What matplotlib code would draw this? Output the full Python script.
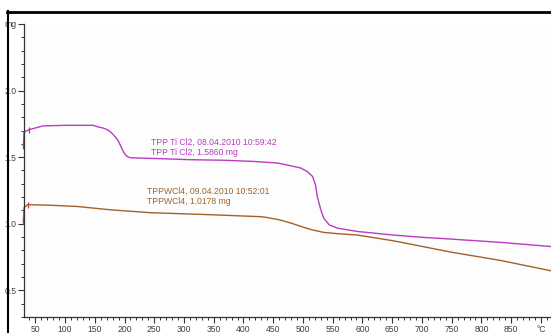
import matplotlib
matplotlib.use("Agg")
import matplotlib.pyplot as plt
from matplotlib.lines import Line2D
from matplotlib.ticker import MultipleLocator, FixedLocator

# TG curves, temperature in degC, mass in mg
tpp_ti_temp = [30, 31, 40, 63, 100, 148, 154, 163, 171, 176, 181, 186, 190, 194, 198, 202,
               205, 210, 220, 260, 311, 366, 417, 457, 479, 496, 507, 516, 521, 524, 530,
               535, 544, 558, 592, 648, 695, 749, 833, 917]
tpp_ti_mass = [1.586, 1.69, 1.707, 1.735, 1.739, 1.739, 1.729, 1.72, 1.707, 1.692, 1.669,
               1.645, 1.617, 1.58, 1.542, 1.515, 1.504, 1.496, 1.494, 1.489, 1.481, 1.477,
               1.468, 1.456, 1.436, 1.419, 1.393, 1.356, 1.293, 1.205, 1.105, 1.042, 0.992,
               0.967, 0.942, 0.917, 0.90, 0.885, 0.86, 0.829]

tppw_temp = [30, 31, 37, 70, 120, 176, 244, 345, 429, 440, 460, 480, 500, 515, 535, 560,
             592, 648, 664, 749, 833, 917]
tppw_mass = [1.018, 1.12, 1.143, 1.14, 1.13, 1.105, 1.083, 1.068, 1.053, 1.047, 1.03,
             1.005, 0.975, 0.955, 0.935, 0.925, 0.915, 0.875, 0.862, 0.787, 0.724, 0.647]

x_ticks = [50, 100, 150, 200, 250, 300, 350, 400, 450, 500, 550, 600, 650, 700, 750, 800, 850, 900]
x_labels = ['50', '100', '150', '200', '250', '300', '350', '400', '450', '500', '550',
            '600', '650', '700', '750', '800', '850', '°C']
y_ticks = [0.5, 1.0, 1.5, 2.0, 2.5]
y_labels = ['0.5', '1.0', '1.5', '2.0', 'mg']

purple = '#b93cc4'
brown = '#a0622c'
plt.rcParams['font.family'] = ['Liberation Sans', 'DejaVu Sans']

W, H = 551, 333
fig = plt.figure(figsize=(W / 100, H / 100), dpi=100)
fig.patch.set_facecolor('white')
ax = fig.add_axes([24 / W, 16 / H, (W - 24) / W, (317 - 24) / H])
ax.set_facecolor('#fdfdfd')

ax.plot(tpp_ti_temp, tpp_ti_mass, color=purple, lw=1.0, clip_on=False)
ax.plot(tppw_temp, tppw_mass, color=brown, lw=1.0, clip_on=False)

# red start markers
for t, m in [(tpp_ti_temp[0], tpp_ti_mass[0]), (tpp_ti_temp[2], tpp_ti_mass[2]),
             (tppw_temp[0], tppw_mass[0]), (tppw_temp[2], tppw_mass[2])]:
    ax.plot([t], [m], marker='|', color='#e03030', ms=5, mew=0.9, clip_on=False)

ax.text(244, 1.575, 'TPP Ti Cl2, 08.04.2010 10:59:42\nTPP Ti Cl2, 1.5860 mg',
        color=purple, fontsize=6.2, linespacing=1.2, va='center')
ax.text(237, 1.207, 'TPPWCl4, 09.04.2010 10:52:01\nTPPWCl4, 1.0178 mg',
        color=brown, fontsize=6.2, linespacing=1.2, va='center')

ax.set_xlim(31, 917)
ax.set_ylim(0.3, 2.5)
ax.xaxis.set_major_locator(FixedLocator(x_ticks))
ax.set_xticklabels(x_labels)
ax.xaxis.set_minor_locator(MultipleLocator(10))
ax.yaxis.set_major_locator(FixedLocator(y_ticks))
ax.set_yticklabels(y_labels)
ax.yaxis.set_minor_locator(MultipleLocator(0.1))

for s in ['top', 'right']:
    ax.spines[s].set_visible(False)
for s in ['left', 'bottom']:
    ax.spines[s].set_color('#333333')
    ax.spines[s].set_linewidth(0.9)

ax.tick_params(which='major', direction='out', length=4, width=0.8, color='#333333',
               labelsize=6.2, labelcolor='#404040', pad=1.5)
ax.tick_params(which='minor', direction='out', length=2.5, width=0.7, color='#333333')

# outer frame of the window
fig.add_artist(Line2D([7 / W, 1], [1 - 11.5 / H] * 2, color='black', lw=2))
fig.add_artist(Line2D([7.5 / W] * 2, [0, 1 - 11 / H], color='black', lw=1.5))

fig.savefig('out.png', dpi=100)
